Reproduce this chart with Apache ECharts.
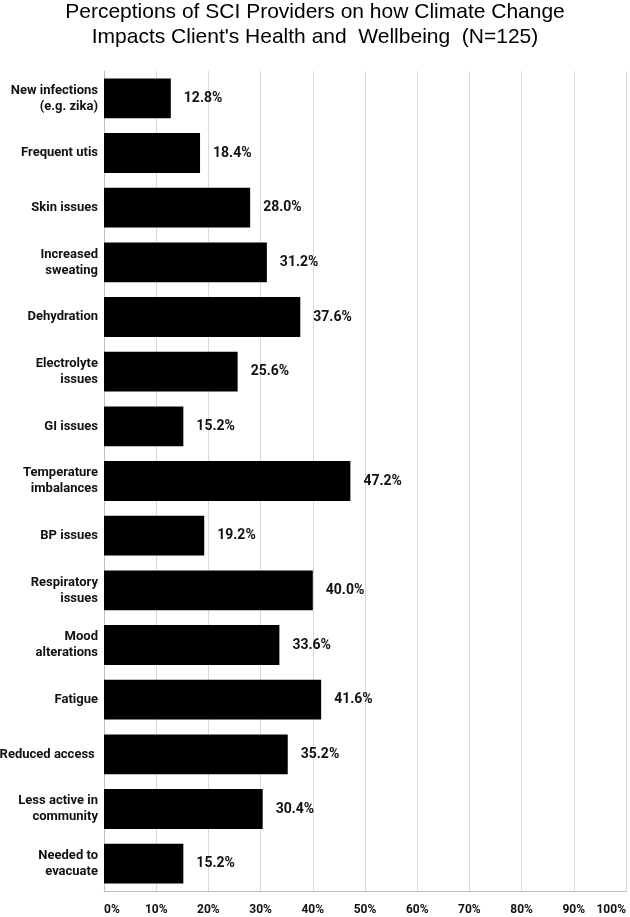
<!DOCTYPE html>
<html>
<head>
<meta charset="utf-8">
<script src="https://cdn.jsdelivr.net/npm/echarts@6/dist/echarts.min.js"></script>
<style>
  html, body { margin: 0; padding: 0; background: #fff; }
  #chart { width: 630px; height: 917px; }
</style>
</head>
<body>
<div id="chart"></div>
<script>
// categories top to bottom
const categories = [
  'New infections\n(e.g. zika)',
  'Frequent utis',
  'Skin issues',
  'Increased\nsweating',
  'Dehydration',
  'Electrolyte\nissues',
  'GI issues',
  'Temperature\nimbalances',
  'BP issues',
  'Respiratory\nissues',
  'Mood\nalterations',
  'Fatigue',
  'Reduced access ',
  'Less active in\ncommunity',
  'Needed to\nevacuate'
]
const percents = [12.8, 18.4, 28.0, 31.2, 37.6, 25.6, 15.2, 47.2, 19.2, 40.0, 33.6, 41.6, 35.2, 30.4, 15.2]

const chart = echarts.init(document.getElementById('chart'))

chart.setOption({
  animation: false,
  title: {
    text: "Perceptions of SCI Providers on how Climate Change\nImpacts Client's Health and  Wellbeing  (N=125)",
    left: 'center',
    top: 0,
    padding: 0,
    textStyle: {
      fontFamily: 'Liberation Sans',
      fontWeight: 'normal',
      fontSize: 21,
      lineHeight: 25,
      color: '#000'
    }
  },
  grid: {
    left: 104,
    right: 4,
    top: 71,
    bottom: 26,
    containLabel: false,
    outerBoundsMode: 'none'
  },
  xAxis: {
    type: 'value',
    min: 0,
    max: 100,
    interval: 10,
    axisLine: { show: true, lineStyle: { color: '#bfbfbf', width: 1 } },
    axisTick: { show: false },
    splitLine: { show: true, lineStyle: { color: '#d9d9d9', width: 1 } },
    axisLabel: {
      formatter: '{value}%',
      margin: 13,
      fontFamily: 'Roboto',
      fontWeight: 'bold',
      fontSize: 12,
      color: '#111',
      alignMinLabel: 'left',
      alignMaxLabel: 'right'
    }
  },
  yAxis: {
    type: 'category',
    inverse: true,
    data: categories,
    axisLine: { show: true, lineStyle: { color: '#bfbfbf', width: 1 } },
    axisTick: { show: false },
    axisLabel: {
      margin: 6,
      fontFamily: 'Roboto',
      fontWeight: 'bold',
      fontSize: 13,
      lineHeight: 16,
      color: '#111',
      align: 'right'
    }
  },
  series: [
    {
      type: 'bar',
      data: percents,
      barCategoryGap: '27%',
      itemStyle: { color: '#000' },
      label: {
        show: true,
        position: 'right',
        distance: 13,
        formatter: (p) => p.value.toFixed(1) + '%',
        fontFamily: 'Roboto',
        fontWeight: 'bold',
        fontSize: 14,
        color: '#111'
      }
    }
  ]
})
</script>
</body>
</html>
